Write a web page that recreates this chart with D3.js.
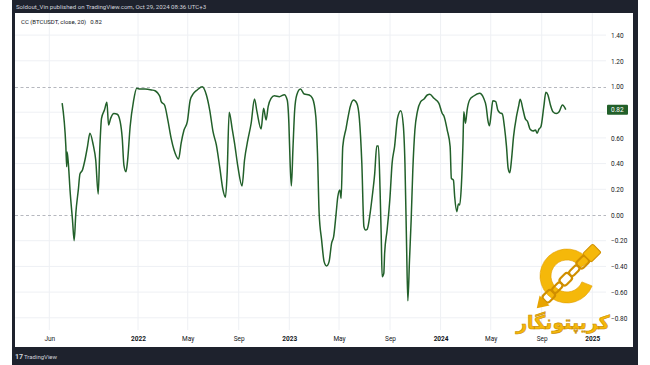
<!DOCTYPE html>
<html><head><meta charset="utf-8">
<script src="https://cdn.jsdelivr.net/npm/d3@7"></script>
<style>html,body{margin:0;padding:0;background:#fff;}svg{display:block;font-family:Roboto,"Liberation Sans",sans-serif;}</style>
</head><body><svg id="c" width="650" height="365"></svg>
<script>
const dates = ["2021-07-02","2021-07-11","2021-07-13","2021-07-14","2021-07-17","2021-07-21","2021-07-27","2021-07-31","2021-08-04","2021-08-10","2021-08-14","2021-08-20","2021-08-26","2021-09-01","2021-09-07","2021-09-15","2021-09-21","2021-09-27","2021-10-01","2021-10-05","2021-10-12","2021-10-18","2021-10-22","2021-10-27","2021-11-04","2021-11-12","2021-11-19","2021-11-24","2021-11-28","2021-12-03","2021-12-07","2021-12-13","2021-12-21","2021-12-29","2022-01-06","2022-01-18","2022-02-03","2022-02-11","2022-02-18","2022-02-23","2022-02-26","2022-03-06","2022-03-14","2022-03-22","2022-03-29","2022-04-09","2022-04-15","2022-04-22","2022-04-30","2022-05-07","2022-05-14","2022-05-24","2022-06-05","2022-06-15","2022-06-23","2022-07-01","2022-07-09","2022-07-17","2022-07-25","2022-07-31","2022-08-04","2022-08-09","2022-08-16","2022-08-22","2022-08-30","2022-09-09","2022-09-15","2022-09-23","2022-10-01","2022-10-09","2022-10-15","2022-10-25","2022-10-31","2022-11-06","2022-11-11","2022-11-18","2022-11-26","2022-12-08","2022-12-20","2022-12-27","2022-12-31","2023-01-03","2023-01-06","2023-01-10","2023-01-14","2023-01-19","2023-01-28","2023-02-06","2023-02-18","2023-02-26","2023-03-06","2023-03-10","2023-03-14","2023-03-20","2023-03-26","2023-04-01","2023-04-07","2023-04-13","2023-04-18","2023-04-24","2023-04-28","2023-05-03","2023-05-06","2023-05-10","2023-05-18","2023-05-23","2023-05-28","2023-06-05","2023-06-13","2023-06-19","2023-06-25","2023-06-30","2023-07-04","2023-07-08","2023-07-15","2023-07-20","2023-07-26","2023-07-31","2023-08-04","2023-08-08","2023-08-11","2023-08-13","2023-08-17","2023-08-19","2023-08-25","2023-09-01","2023-09-06","2023-09-12","2023-09-19","2023-09-27","2023-10-03","2023-10-07","2023-10-11","2023-10-14","2023-10-18","2023-10-22","2023-10-26","2023-10-31","2023-11-06","2023-11-14","2023-11-22","2023-11-30","2023-12-06","2023-12-16","2023-12-28","2024-01-05","2024-01-09","2024-01-17","2024-01-24","2024-01-27","2024-02-01","2024-02-04","2024-02-09","2024-02-13","2024-02-16","2024-02-20","2024-02-24","2024-02-26","2024-03-01","2024-03-05","2024-03-11","2024-03-21","2024-04-04","2024-04-14","2024-04-20","2024-04-24","2024-04-28","2024-05-02","2024-05-06","2024-05-13","2024-05-18","2024-05-23","2024-05-29","2024-06-03","2024-06-08","2024-06-12","2024-06-16","2024-06-20","2024-06-25","2024-07-02","2024-07-07","2024-07-11","2024-07-18","2024-07-23","2024-07-29","2024-08-04","2024-08-11","2024-08-17","2024-08-21","2024-08-25","2024-08-30","2024-09-06","2024-09-11","2024-09-16","2024-09-22","2024-09-28","2024-10-06","2024-10-13","2024-10-21","2024-10-29"];
const ccValues = [0.87,0.53,0.376,0.49,0.40,0.195,-0.04,-0.20,0.013,0.195,0.32,0.35,0.428,0.53,0.636,0.545,0.428,0.163,0.53,0.752,0.817,0.877,0.70,0.752,0.79,0.784,0.726,0.597,0.389,0.337,0.428,0.687,0.882,0.986,0.98,0.98,0.973,0.967,0.947,0.92,0.882,0.856,0.739,0.597,0.506,0.436,0.558,0.661,0.726,0.895,0.942,0.973,0.998,0.934,0.817,0.648,0.545,0.376,0.195,0.138,0.32,0.80,0.675,0.558,0.376,0.226,0.428,0.584,0.714,0.903,0.804,0.67,0.83,0.739,0.843,0.908,0.928,0.921,0.936,0.895,0.714,0.402,0.226,0.532,0.817,0.934,0.98,0.942,0.934,0.908,0.765,0.48,0.013,-0.195,-0.363,-0.397,-0.363,-0.22,-0.169,0.013,0.142,0.195,0.13,0.532,0.675,0.765,0.843,0.895,0.869,0.752,0.402,-0.09,-0.117,-0.11,0.013,0.142,0.32,0.537,0.537,0.195,-0.195,-0.48,-0.454,-0.298,-0.117,0.142,0.402,0.532,0.752,0.812,0.70,0.402,-0.246,-0.667,-0.35,-0.039,0.35,0.661,0.804,0.882,0.903,0.934,0.939,0.908,0.869,0.79,0.77,0.661,0.532,0.285,0.272,0.142,0.026,0.086,0.078,0.22,0.558,0.804,0.714,0.817,0.895,0.926,0.947,0.908,0.843,0.739,0.695,0.79,0.889,0.882,0.817,0.796,0.786,0.687,0.532,0.363,0.329,0.428,0.61,0.765,0.843,0.90,0.817,0.752,0.726,0.667,0.654,0.661,0.636,0.667,0.687,0.843,0.955,0.934,0.856,0.804,0.79,0.804,0.856,0.82];
const yTickValues = [-0.8,-0.6,-0.4,-0.2,0,0.2,0.4,0.6,0.8,1.0,1.2,1.4];
const yTickLabels = ["\u22120.80","\u22120.60","\u22120.40","\u22120.20","0.00","0.20","0.40","0.60","0.80","1.00","1.20","1.40"];
const xTickDates = ["2021-06-01","2022-01-01","2022-05-01","2022-09-01","2023-01-01","2023-05-01","2023-09-01","2024-01-01","2024-05-01","2024-09-01","2025-01-01"];
const xTickLabels = ["Jun","2022","May","Sep","2023","May","Sep","2024","May","Sep","2025"];
const dashedLevels = [1.0, 0.0];
const lastValue = 0.82;
const headerText = "Soldout_Vin published on TradingView.com, Oct 29, 2024 08:36 UTC+3";
const legendText = "CC (BTCUSDT, close, 20)";
const watermarkText = "کریپتونگار";

const parse = d3.utcParse("%Y-%m-%d");
const data = dates.map((d,i)=>({date:parse(d), v:ccValues[i]}));

const svg = d3.select("#c");
const lineColor = "#22602a";

// frame
svg.append("rect").attr("x",12).attr("y",0).attr("width",626).attr("height",365).attr("fill","#1e222d");
svg.append("rect").attr("x",15).attr("y",13).attr("width",618).attr("height",334).attr("fill","#ffffff");

const plotL = 15, plotR = 606, plotT = 13, plotB = 330;
const x = d3.scaleUtc().domain([parse("2022-01-01"), parse("2025-01-01")]).range([138, 592.3]);
const y = d3.scaleLinear().domain([0, 1]).range([215, 86.5]);

// gridlines
const grid = svg.append("g");
grid.selectAll("line.h").data(yTickValues.filter(v=>!dashedLevels.includes(v))).join("line")
  .attr("x1",plotL).attr("x2",plotR).attr("y1",d=>y(d)).attr("y2",d=>y(d))
  .attr("stroke","#eef0f4").attr("stroke-width",1);
grid.selectAll("line.v").data(xTickDates).join("line")
  .attr("x1",d=>x(parse(d))).attr("x2",d=>x(parse(d))).attr("y1",plotT).attr("y2",plotB)
  .attr("stroke","#eef0f4").attr("stroke-width",1);
grid.selectAll("line.d").data(dashedLevels).join("line")
  .attr("x1",plotL).attr("x2",plotR).attr("y1",d=>Math.round(y(d))+0.5).attr("y2",d=>Math.round(y(d))+0.5)
  .attr("stroke","#a3a6af").attr("stroke-width",0.8).attr("stroke-dasharray","3,2.5");

// watermark logo
const wm = svg.append("g");
const arc = d3.arc().innerRadius(16).outerRadius(27).startAngle(Math.PI*0.62).endAngle(Math.PI*2.32);
wm.append("path").attr("d",arc()).attr("transform","translate(567,276)").attr("fill","#f5b80a").attr("stroke","#e09c00").attr("stroke-width",0.6);
const chain = wm.append("g").attr("transform","translate(570,275) rotate(-45)");
[-30,-18,-6,6,18].forEach((cx,i)=>{
  chain.append("rect").attr("x",cx-6).attr("y",i%2?-3:-4.5).attr("width",12).attr("height",i%2?6:9).attr("rx",3)
    .attr("fill","none").attr("stroke","#d08f00").attr("stroke-width",2.2);
});
chain.append("rect").attr("x",24).attr("y",-6).attr("width",14).attr("height",12).attr("rx",1.5).attr("fill","#f5b80a").attr("stroke","#d08f00").attr("stroke-width",1);
chain.append("path").attr("d","M-36,-7 L-47,0 L-36,7 Z").attr("fill","#e8a400");
wm.append("text").attr("x",563).attr("y",329).attr("text-anchor","middle")
  .attr("font-family","'DejaVu Sans',sans-serif").attr("font-weight","bold").attr("font-size",19)
  .attr("fill","#f5b80a").attr("stroke","#c98a00").attr("stroke-width",0.6).attr("direction","rtl").text(watermarkText);

// line
const line = d3.line().x(d=>x(d.date)).y(d=>y(d.v)).curve(d3.curveMonotoneX);
svg.append("path").datum(data).attr("d",line).attr("fill","none").attr("stroke",lineColor).attr("stroke-width",1.5).attr("stroke-linejoin","round");

// y axis (labels colliding with the last-value badge are hidden, as TradingView does)
const yAxis = d3.axisRight(y).tickValues(yTickValues).tickFormat((d,i)=>yTickLabels[i]).tickSize(0).tickPadding(0);
const yg = svg.append("g").attr("transform","translate(611,0)").call(yAxis);
yg.select(".domain").remove();
yg.selectAll("text").attr("font-size",6.5).attr("fill","#131722").attr("font-family","Roboto,sans-serif").attr("dy","0.35em")
  .attr("display",d=>Math.abs(d-lastValue)<0.1?"none":null);

// last value label
svg.append("rect").attr("x",607).attr("y",y(lastValue)-5).attr("width",21).attr("height",10).attr("rx",1).attr("fill",lineColor);
svg.append("text").attr("x",611).attr("y",y(lastValue)).attr("dy","0.35em").attr("font-size",6.5).attr("fill","#ffffff").text(lastValue.toFixed(2));

// x axis
const xAxis = d3.axisBottom(x).tickValues(xTickDates.map(parse)).tickFormat((d,i)=>xTickLabels[i]).tickSize(0).tickPadding(0);
const xg = svg.append("g").attr("transform","translate(0,336)").call(xAxis);
xg.select(".domain").remove();
xg.selectAll("text").attr("font-size",6.5).attr("fill","#131722").attr("font-family","Roboto,sans-serif")
  .attr("font-weight",(d,i)=>/^\d{4}$/.test(xTickLabels[i])?"bold":"normal");

// header & legend
svg.append("text").attr("x",16).attr("y",9).attr("font-size",6.1).attr("fill","#d1d4dc").text(headerText);
const lg = svg.append("text").attr("x",21).attr("y",24).attr("font-size",6).attr("fill","#131722");
lg.append("tspan").text(legendText);
lg.append("tspan").attr("dx",4).text(lastValue.toFixed(2));

// footer
svg.append("text").attr("x",15).attr("y",359).attr("font-size",7).attr("font-weight","bold").attr("fill","#d1d4dc").text("17");
svg.append("text").attr("x",24).attr("y",359).attr("font-size",6).attr("fill","#d1d4dc").text("TradingView");
</script></body></html>
